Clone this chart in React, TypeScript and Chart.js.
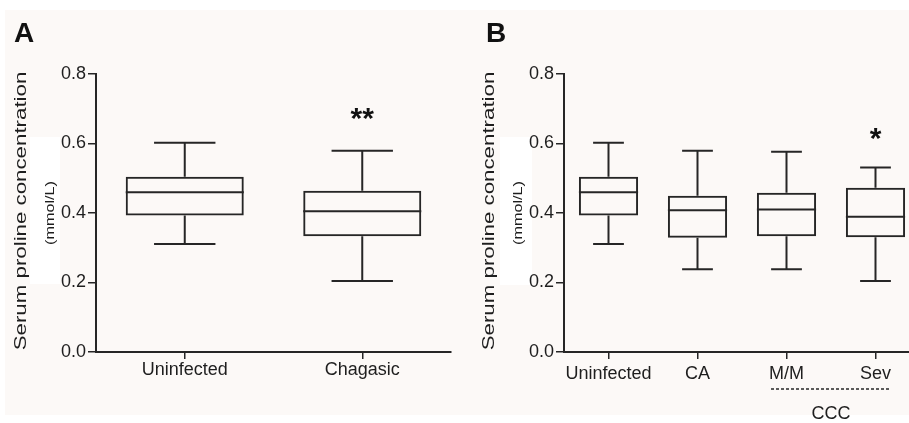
import React, { useEffect, useRef } from "react";
import { Chart, registerables } from "chart.js";
Chart.register(...registerables);

const FONT = '"Liberation Sans", Arial, Helvetica, sans-serif';
const INK = "#262626";
const BG = "#fcf9f7";

// ---- Panel A data ----
const categoriesA = ["Uninfected", "Chagasic"];
const whiskerLowA = [0.311, 0.204];
const q1A = [0.393, 0.333];
const medianA = [0.46, 0.405];
const q3A = [0.504, 0.464];
const whiskerHighA = [0.602, 0.579];
const starsA = ["", "**"];
const starLevelA = [0, 0.685];

// ---- Panel B data ----
const categoriesB = ["Uninfected", "CA", "M/M", "Sev"];
const whiskerLowB = [0.311, 0.238, 0.238, 0.204];
const q1B = [0.393, 0.329, 0.333, 0.33];
const medianB = [0.46, 0.408, 0.41, 0.389];
const q3B = [0.504, 0.45, 0.458, 0.473];
const whiskerHighB = [0.602, 0.579, 0.576, 0.531];
const starsB = ["", "", "", "*"];
const starLevelB = [0, 0, 0, 0.627];
const groupLabelB = "CCC";
const groupFromB = 2;
const groupToB = 3;

// ---- Axis ----
const yMin = 0;
const yMax = 0.8;
const yStep = 0.2;
const yTitle = "Serum proline concentration";
const yUnit = "(mmol/L)";

type PanelProps = {
  letter: string;
  categories: string[];
  low: number[];
  q1: number[];
  med: number[];
  q3: number[];
  high: number[];
  stars: string[];
  starLevels: number[];
  left: number;
  width: number;
  axisWidth: number;
  rightPad: number;
  labelPad: number;
  letterX: number;
  group?: { label: string; from: number; to: number };
};

function Panel(p: PanelProps) {
  const ref = useRef<HTMLCanvasElement | null>(null);
  useEffect(() => {
    if (!ref.current) return;
    const boxPlugin = {
      id: "boxWhiskers",
      afterDatasetsDraw(chart: any) {
        const ctx = chart.ctx;
        const y = chart.scales.y;
        const meta = chart.getDatasetMeta(0);
        ctx.save();
        ctx.strokeStyle = INK;
        ctx.lineWidth = 2;
        meta.data.forEach((el: any, i: number) => {
          const { x, width: w } = el.getProps(["x", "width"], true);
          const cap = w * 0.26;
          const yl = y.getPixelForValue(p.low[i]);
          const y1 = y.getPixelForValue(p.q1[i]);
          const ym = y.getPixelForValue(p.med[i]);
          const y3 = y.getPixelForValue(p.q3[i]);
          const yh = y.getPixelForValue(p.high[i]);
          ctx.beginPath();
          ctx.moveTo(x - w / 2, ym);
          ctx.lineTo(x + w / 2, ym);
          ctx.moveTo(x, y3);
          ctx.lineTo(x, yh);
          ctx.moveTo(x - cap, yh);
          ctx.lineTo(x + cap, yh);
          ctx.moveTo(x, y1);
          ctx.lineTo(x, yl);
          ctx.moveTo(x - cap, yl);
          ctx.lineTo(x + cap, yl);
          ctx.stroke();
          const s = p.stars[i];
          if (s) {
            ctx.fillStyle = "#111";
            ctx.font = `bold 30px ${FONT}`;
            ctx.textAlign = "center";
            ctx.textBaseline = "alphabetic";
            const m = ctx.measureText(s);
            const yc = y.getPixelForValue(p.starLevels[i]);
            const base = yc + (m.actualBoundingBoxAscent - m.actualBoundingBoxDescent) / 2;
            ctx.fillText(s, x, base);
          }
        });
        ctx.restore();
      },
    };
    const decoPlugin = {
      id: "decorations",
      afterDraw(chart: any) {
        const ctx = chart.ctx;
        const area = chart.chartArea;
        ctx.save();
        ctx.fillStyle = "#111";
        // panel letter
        ctx.font = `bold 28px ${FONT}`;
        ctx.textAlign = "left";
        ctx.textBaseline = "alphabetic";
        ctx.fillText(p.letter, p.letterX, 42);
        // y title (stretched along its length)
        const cy = (area.top + area.bottom) / 2;
        ctx.fillStyle = "#1e1e1e";
        ctx.save();
        ctx.translate(area.left - 75, cy - 2);
        ctx.rotate(-Math.PI / 2);
        ctx.scale(1.35, 1);
        ctx.font = `16.5px ${FONT}`;
        ctx.textAlign = "center";
        ctx.textBaseline = "middle";
        ctx.fillText(yTitle, 0, 0);
        ctx.restore();
        ctx.save();
        ctx.translate(area.left - 45, cy);
        ctx.rotate(-Math.PI / 2);
        ctx.scale(1.35, 1);
        ctx.font = `12px ${FONT}`;
        ctx.textAlign = "center";
        ctx.textBaseline = "middle";
        ctx.fillText(yUnit, 0, 0);
        ctx.restore();
        // group bracket
        if (p.group) {
          const xs = chart.scales.x;
          const a = xs.getPixelForValue(p.group.from);
          const b = xs.getPixelForValue(p.group.to);
          ctx.font = `18px ${FONT}`;
          const wa = ctx.measureText(p.categories[p.group.from]).width;
          const wb = ctx.measureText(p.categories[p.group.to]).width;
          ctx.strokeStyle = INK;
          ctx.lineWidth = 1.5;
          ctx.setLineDash([3, 2]);
          ctx.beginPath();
          ctx.moveTo(a - wa / 2 + 2, area.bottom + 37);
          ctx.lineTo(b + wb / 2 - 1, area.bottom + 37);
          ctx.stroke();
          ctx.setLineDash([]);
          ctx.textAlign = "center";
          ctx.textBaseline = "middle";
          ctx.fillText(p.group.label, (a + b) / 2, area.bottom + 62);
        }
        ctx.restore();
      },
    };
    const chart = new Chart(ref.current, {
      type: "bar",
      data: {
        labels: p.categories,
        datasets: [
          {
            data: p.q1.map((v, i) => [v, p.q3[i]]) as any,
            backgroundColor: "rgba(0,0,0,0)",
            borderColor: INK,
            borderWidth: 2,
            borderSkipped: false,
            barPercentage: 0.665,
            categoryPercentage: 1,
          },
        ],
      },
      options: {
        animation: false,
        responsive: false,
        devicePixelRatio: 1,
        layout: { padding: { top: 74, left: 0, right: p.rightPad, bottom: 0 } },
        plugins: { legend: { display: false }, tooltip: { enabled: false } },
        scales: {
          x: {
            grid: {
              offset: false,
              drawOnChartArea: false,
              drawTicks: true,
              tickLength: 7,
              color: INK,
              lineWidth: 1.5,
            },
            border: { display: true, color: INK, width: 2 },
            ticks: {
              color: "#1e1e1e",
              font: { family: FONT, size: 18 },
              padding: p.labelPad,
              maxRotation: 0,
              autoSkip: false,
            },
            afterFit: (s: any) => {
              s.height = 71;
            },
          },
          y: {
            min: yMin,
            max: yMax,
            grid: {
              drawOnChartArea: false,
              drawTicks: true,
              tickLength: 8,
              color: INK,
              lineWidth: 1.5,
            },
            border: { display: true, color: INK, width: 2 },
            ticks: {
              stepSize: yStep,
              color: "#1e1e1e",
              font: { family: FONT, size: 18 },
              padding: 2,
              callback: (v: any) => Number(v).toFixed(1),
            },
            afterFit: (s: any) => {
              s.width = p.axisWidth;
            },
          },
        },
      },
      plugins: [boxPlugin, decoPlugin],
    });
    return () => chart.destroy();
  }, []);
  return (
    <canvas
      ref={ref}
      width={p.width}
      height={423}
      style={{ position: "absolute", left: p.left, top: 0, width: p.width, height: 423 }}
    />
  );
}

export default function App() {
  useEffect(() => {
    document.body.style.margin = "0";
  }, []);
  return (
    <div
      style={{
        position: "absolute",
        left: 0,
        top: 0,
        width: 909,
        height: 423,
        overflow: "hidden",
        background: "#ffffff",
      }}
    >
      <div style={{ position: "absolute", left: 5, top: 10, width: 904, height: 405, background: BG }} />
      <div style={{ position: "absolute", left: 30, top: 137, width: 30, height: 147, background: "#ffffff" }} />
      <div style={{ position: "absolute", left: 500, top: 137, width: 32, height: 148, background: "#ffffff" }} />
      <Panel
        letter="A"
        categories={categoriesA}
        low={whiskerLowA}
        q1={q1A}
        med={medianA}
        q3={q3A}
        high={whiskerHighA}
        stars={starsA}
        starLevels={starLevelA}
        left={0}
        width={452}
        axisWidth={96}
        rightPad={1}
        labelPad={0}
        letterX={14}
      />
      <Panel
        letter="B"
        categories={categoriesB}
        low={whiskerLowB}
        q1={q1B}
        med={medianB}
        q3={q3B}
        high={whiskerHighB}
        stars={starsB}
        starLevels={starLevelB}
        left={450}
        width={470}
        axisWidth={114}
        rightPad={0}
        labelPad={4}
        letterX={36}
        group={{ label: groupLabelB, from: groupFromB, to: groupToB }}
      />
    </div>
  );
}
